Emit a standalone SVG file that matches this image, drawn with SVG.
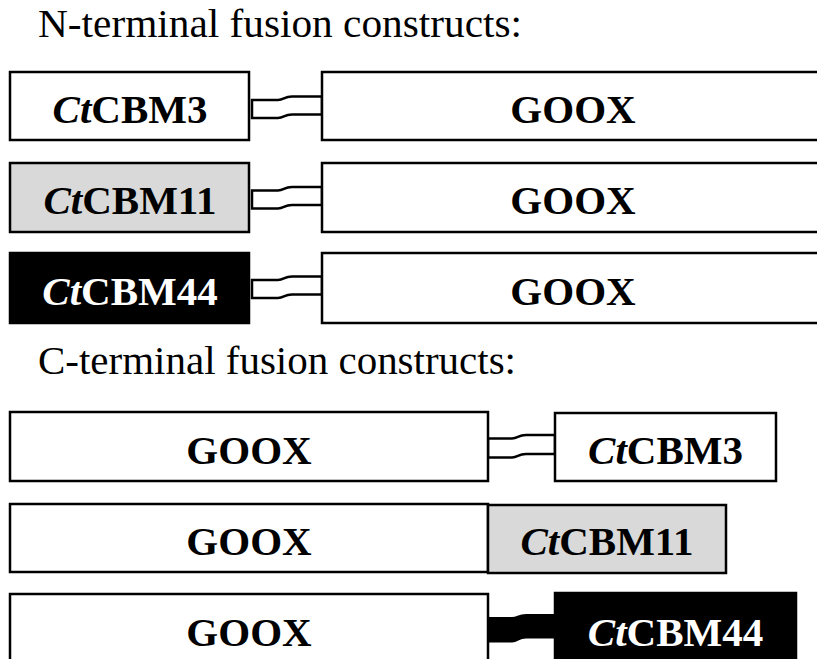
<svg xmlns="http://www.w3.org/2000/svg" width="817" height="659" viewBox="0 0 817 659">
<style>
.title{font-family:"Liberation Serif","Times New Roman",serif;font-size:40px;fill:#000}
.lbl{font-family:"Liberation Serif","Times New Roman",serif;font-size:41px;font-weight:bold;text-anchor:middle;fill:#000}
.lbl tspan.it{font-style:italic}
.w{fill:#fff;stroke:#000;stroke-width:2.5}
.g{fill:#d9d9d9;stroke:#000;stroke-width:2.5}
.b{fill:#000;stroke:#000;stroke-width:2.5}
.wt{fill:#fff}
.lk{fill:#fff;stroke:#000;stroke-width:2.5}
.lkb{fill:#000;stroke:#000;stroke-width:2}
</style>
<rect width="817" height="659" fill="#fff"/>
<text class="title" x="38" y="37" textLength="484" lengthAdjust="spacingAndGlyphs">N-terminal fusion constructs:</text>
<text class="title" x="38" y="374" textLength="478" lengthAdjust="spacingAndGlyphs">C-terminal fusion constructs:</text>

<g id="connectors">
  <path class="lk" d="M252,100 L278,100 C284,100 284,96.5 292,96.5 L322,96.5 L322,114.5 L292,114.5 C284,114.5 284,118 278,118 L252,118 Z"/>
  <path class="lk" d="M252,190.5 L278,190.5 C284,190.5 284,187 292,187 L322,187 L322,205 L292,205 C284,205 284,208.5 278,208.5 L252,208.5 Z"/>
  <path class="lk" d="M252,280 L278,280 C284,280 284,276.5 292,276.5 L322,276.5 L322,294.5 L292,294.5 C284,294.5 284,298 278,298 L252,298 Z"/>
  <path class="lk" d="M488,438.5 L512,438.5 C518,438.5 518,435 526,435 L555,435 L555,454 L526,454 C518,454 518,457.5 512,457.5 L488,457.5 Z"/>
  <path class="lkb" d="M488,618 L512,618 C518,618 518,615 526,615 L555,615 L555,637.5 L526,637.5 C518,637.5 518,641.5 512,641.5 L488,641.5 Z"/>
</g>

<g id="n1-cbm3"><rect class="w" x="10" y="72" width="239" height="68"/><text class="lbl" x="130" y="123"><tspan class="it">Ct</tspan>CBM3</text></g>
<g id="n1-goox"><rect class="w" x="322" y="72" width="510" height="68"/><text class="lbl" x="573" y="123">GOOX</text></g>

<g id="n2-cbm11"><rect class="g" x="10" y="163" width="239" height="69"/><text class="lbl" x="130" y="214"><tspan class="it">Ct</tspan>CBM11</text></g>
<g id="n2-goox"><rect class="w" x="322" y="163" width="510" height="69"/><text class="lbl" x="573" y="214">GOOX</text></g>

<g id="n3-cbm44"><rect class="b" x="10" y="253" width="239" height="70"/><text class="lbl wt" x="130" y="305"><tspan class="it">Ct</tspan>CBM44</text></g>
<g id="n3-goox"><rect class="w" x="322" y="253" width="510" height="70"/><text class="lbl" x="573" y="305">GOOX</text></g>

<g id="c1-goox"><rect class="w" x="10" y="412" width="478" height="69"/><text class="lbl" x="249" y="464">GOOX</text></g>
<g id="c1-cbm3"><rect class="w" x="555" y="413" width="221" height="68"/><text class="lbl" x="665.5" y="464"><tspan class="it">Ct</tspan>CBM3</text></g>

<g id="c2-goox"><rect class="w" x="10" y="504" width="478" height="68"/><text class="lbl" x="249" y="555">GOOX</text></g>
<g id="c2-cbm11"><rect class="g" x="488" y="505" width="238" height="68"/><text class="lbl" x="607" y="555"><tspan class="it">Ct</tspan>CBM11</text></g>

<g id="c3-goox"><rect class="w" x="10" y="594" width="478" height="70"/><text class="lbl" x="249" y="646">GOOX</text></g>
<g id="c3-cbm44"><rect class="b" x="555" y="593" width="241" height="71"/><text class="lbl wt" x="675.5" y="646"><tspan class="it">Ct</tspan>CBM44</text></g>
</svg>
